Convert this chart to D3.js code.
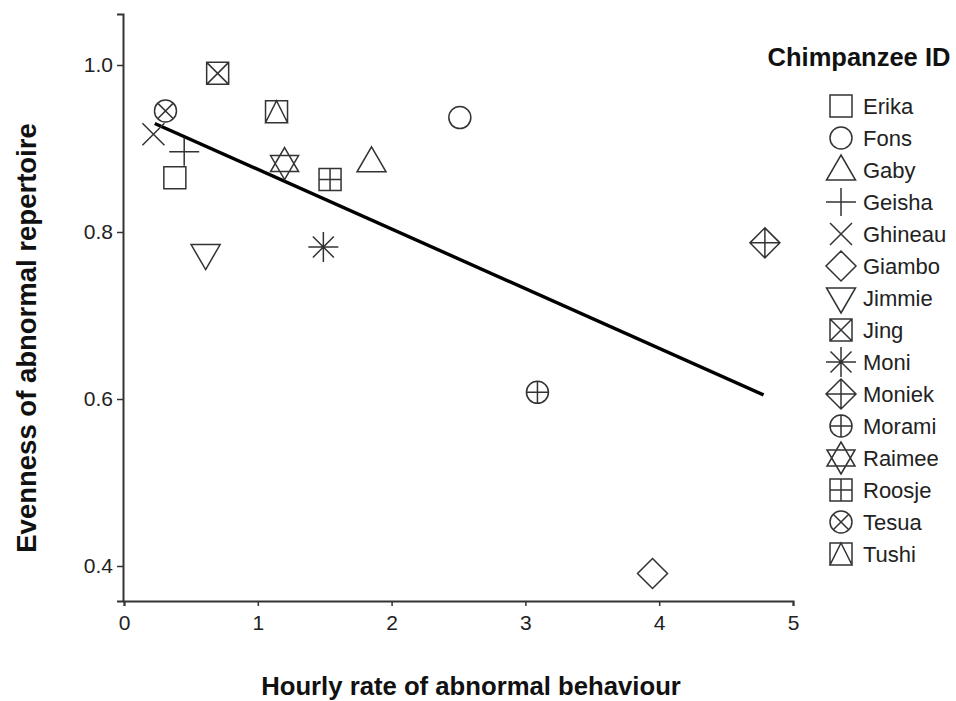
<!DOCTYPE html>
<html>
<head>
<meta charset="utf-8">
<script src="https://cdn.jsdelivr.net/npm/d3@7"></script>
<style>
  html, body { margin: 0; padding: 0; background: #fff; }
  svg { display: block; }
</style>
</head>
<body>
<svg id="chart" width="956" height="701"></svg>
<script>
// ---- data ----
const names = ["Erika","Fons","Gaby","Geisha","Ghineau","Giambo","Jimmie","Jing","Moni","Moniek","Morami","Raimee","Roosje","Tesua","Tushi"];
const hourlyRate = [0.38, 2.51, 1.85, 0.45, 0.22, 3.95, 0.61, 0.70, 1.49, 4.79, 3.09, 1.20, 1.54, 0.31, 1.14];
const evenness   = [0.865, 0.937, 0.884, 0.896, 0.917, 0.391, 0.773, 0.990, 0.782, 0.787, 0.608, 0.882, 0.863, 0.945, 0.944];
const shapes = ["square","circle","triangle","plus","cross","diamond","triangleDown","squareCross","asterisk","diamondPlus","circlePlus","star","squarePlus","circleCross","squareTriangle"];
const fitX = [0.23, 4.78];
const fitY = [0.930, 0.605];
const xTicks = [0, 1, 2, 3, 4, 5];
const yTicks = [0.4, 0.6, 0.8, 1.0];

const svg = d3.select("#chart");
const ink = "#333";
const font = "Liberation Sans, Arial, Helvetica, sans-serif";

const x = d3.scaleLinear().domain([0, 5]).range([124, 793]);
const y = d3.scaleLinear().domain([0.4, 1.0]).range([566, 65]);
const yAxisScale = y.copy().domain([y.invert(601), y.invert(14)]).range([601, 14]);
const xAxisY = 601;

// axes
const gx = svg.append("g").attr("transform", `translate(0,${xAxisY})`)
  .call(d3.axisBottom(x).tickValues(xTicks).tickFormat(d3.format("d")).tickSizeOuter(0).tickSize(5).tickPadding(9));
const gy = svg.append("g").attr("transform", `translate(123,0)`)
  .call(d3.axisLeft(yAxisScale).tickValues(yTicks).tickFormat(d3.format(".1f")).tickSizeOuter(0).tickSize(6).tickPadding(4));
[gx, gy].forEach(g => {
  g.attr("font-size", 21).attr("font-family", font);
  g.select(".domain").attr("stroke", ink).attr("stroke-width", 2);
  g.selectAll(".tick line").attr("stroke", ink).attr("stroke-width", 1.5);
  g.selectAll(".tick text").attr("fill", "#222").attr("font-size", 21).style("font-size", "21px");
});

// axis titles
svg.append("text").attr("x", 471).attr("y", 695).attr("text-anchor", "middle")
  .style("font-family", font).style("font-size", "25.7px").style("font-weight", "bold").attr("fill", "#111")
  .text("Hourly rate of abnormal behaviour");
svg.append("text").attr("transform", "translate(36,338) rotate(-90)").attr("text-anchor", "middle")
  .style("font-family", font).style("font-size", "27.5px").style("font-weight", "bold").attr("fill", "#111")
  .text("Evenness of abnormal repertoire");

// symbol path generators (centered at 0,0)
function sq(h){ return `M${-h},${-h}H${h}V${h}H${-h}Z`; }
function circ(r){ return `M${r},0A${r},${r} 0 1,1 ${-r},0A${r},${r} 0 1,1 ${r},0Z`; }
function triUp(w,h){ return `M0,${-h*0.6}L${w/2},${h*0.4}L${-w/2},${h*0.4}Z`; }
function triDown(w,h){ return `M0,${h*0.6}L${w/2},${-h*0.4}L${-w/2},${-h*0.4}Z`; }
function plus(a,b){ return `M${-a},0H${a}M0,${-b}V${b}`; }
function cross(h){ return `M${-h},${-h}L${h},${h}M${-h},${h}L${h},${-h}`; }
function diam(h){ return `M0,${-h}L${h},0L0,${h}L${-h},0Z`; }
const symbolPath = {
  square: () => sq(11),
  circle: () => circ(11),
  triangle: () => triUp(29, 25),
  plus: () => plus(15, 14),
  cross: () => cross(11),
  diamond: () => diam(15),
  triangleDown: () => triDown(29, 25),
  squareCross: () => sq(11) + cross(11),
  asterisk: () => plus(15, 15) + cross(10.5),
  diamondPlus: () => diam(15) + plus(15, 15),
  circlePlus: () => circ(11) + plus(11, 11),
  star: () => `M0,-16L14,8L-14,8Z M0,16L14,-8L-14,-8Z`,
  squarePlus: () => sq(11) + plus(11, 11),
  circleCross: () => circ(11) + cross(7.8),
  squareTriangle: () => sq(11) + `M0,-11L11,11L-11,11Z`
};

// regression line
svg.append("path")
  .datum(fitX.map((d, i) => [d, fitY[i]]))
  .attr("d", d3.line().x(d => x(d[0])).y(d => y(d[1])))
  .attr("fill", "none").attr("stroke", "#000").attr("stroke-width", 3.4);

// points
const pts = names.map((n, i) => ({ name: n, x: hourlyRate[i], y: evenness[i], shape: shapes[i] }));
svg.append("g").selectAll("path").data(pts).join("path")
  .attr("transform", d => `translate(${x(d.x)},${y(d.y)})`)
  .attr("d", d => symbolPath[d.shape]())
  .attr("fill", "none").attr("stroke", ink).attr("stroke-width", 1.5);

// legend
const legend = svg.append("g");
legend.append("text").attr("x", 859).attr("y", 66).attr("text-anchor", "middle")
  .style("font-family", font).style("font-size", "25.5px").style("font-weight", "bold").attr("fill", "#111")
  .text("Chimpanzee ID");
const item = legend.selectAll("g.item").data(pts).join("g")
  .attr("class", "item")
  .attr("transform", (d, i) => `translate(841,${106 + i * 32})`);
item.append("path").attr("d", d => symbolPath[d.shape]())
  .attr("fill", "none").attr("stroke", ink).attr("stroke-width", 1.5);
item.append("text").attr("x", 22).attr("y", 0).attr("dy", "0.35em")
  .style("font-family", font).style("font-size", "22px").attr("fill", "#222")
  .text(d => d.name);
</script>
</body>
</html>
